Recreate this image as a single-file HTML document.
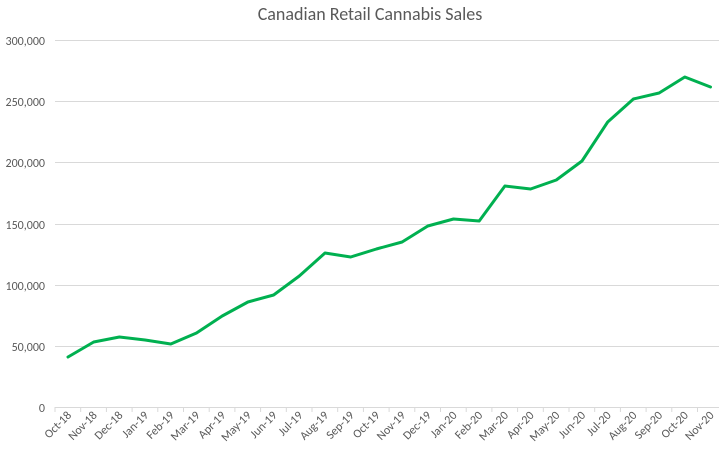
<!DOCTYPE html>
<html><head><style>body{margin:0;background:#fff}svg{display:block}</style></head><body>
<svg width="721" height="454" xmlns="http://www.w3.org/2000/svg" font-family="Calibri, 'Liberation Sans', sans-serif">
<text x="370" y="20" font-size="18" fill="#595959" text-anchor="middle">Canadian Retail Cannabis Sales</text>
<g stroke="#d9d9d9" stroke-width="1">
<line x1="55" x2="719" y1="40.5" y2="40.5"/>
<line x1="55" x2="719" y1="101.5" y2="101.5"/>
<line x1="55" x2="719" y1="162.5" y2="162.5"/>
<line x1="55" x2="719" y1="224.5" y2="224.5"/>
<line x1="55" x2="719" y1="285.5" y2="285.5"/>
<line x1="55" x2="719" y1="346.5" y2="346.5"/>
<line x1="55" x2="719" y1="407.5" y2="407.5"/>
</g>
<g font-size="12" fill="#595959" text-anchor="end">
<text x="45" y="45">300,000</text>
<text x="45" y="106">250,000</text>
<text x="45" y="167">200,000</text>
<text x="45" y="229">150,000</text>
<text x="45" y="290">100,000</text>
<text x="45" y="351">50,000</text>
<text x="45" y="412">0</text>
</g>
<g id="ticks" stroke="#d9d9d9"></g>
<g id="labels" font-size="12" fill="#595959" text-anchor="end"></g>
<polyline fill="none" stroke="#00b050" stroke-width="3" stroke-linejoin="round" stroke-linecap="round" points=""/>
<script>
var names=["Oct-18","Nov-18","Dec-18","Jan-19","Feb-19","Mar-19","Apr-19","May-19","Jun-19","Jul-19","Aug-19","Sep-19","Oct-19","Nov-19","Dec-19","Jan-20","Feb-20","Mar-20","Apr-20","May-20","Jun-20","Jul-20","Aug-20","Sep-20","Oct-20","Nov-20"];
var ys=[357,342,337,340,344,333,316,302,295,276,253,257,249,242,226,219,221,186,189,180,161,122,99,93,77,87];
var ns="http://www.w3.org/2000/svg",pts=[],w=25.7;
var t=document.getElementById("ticks"),l=document.getElementById("labels");
for(var i=0;i<26;i++){var x=68+i*w;pts.push(x.toFixed(1)+","+ys[i]);
var tk=document.createElementNS(ns,"line");var tx=55+i*w;tk.setAttribute("x1",tx);tk.setAttribute("x2",tx);tk.setAttribute("y1",407);tk.setAttribute("y2",412);t.appendChild(tk);
var tt=document.createElementNS(ns,"text");tt.setAttribute("transform","translate("+(x+4)+",416) rotate(-45)");tt.textContent=names[i];l.appendChild(tt);}
var tk2=document.createElementNS(ns,"line");tk2.setAttribute("x1",55+26*w);tk2.setAttribute("x2",55+26*w);tk2.setAttribute("y1",407);tk2.setAttribute("y2",412);t.appendChild(tk2);
document.querySelector("polyline").setAttribute("points",pts.join(" "));
</script>
</svg>
</body></html>
